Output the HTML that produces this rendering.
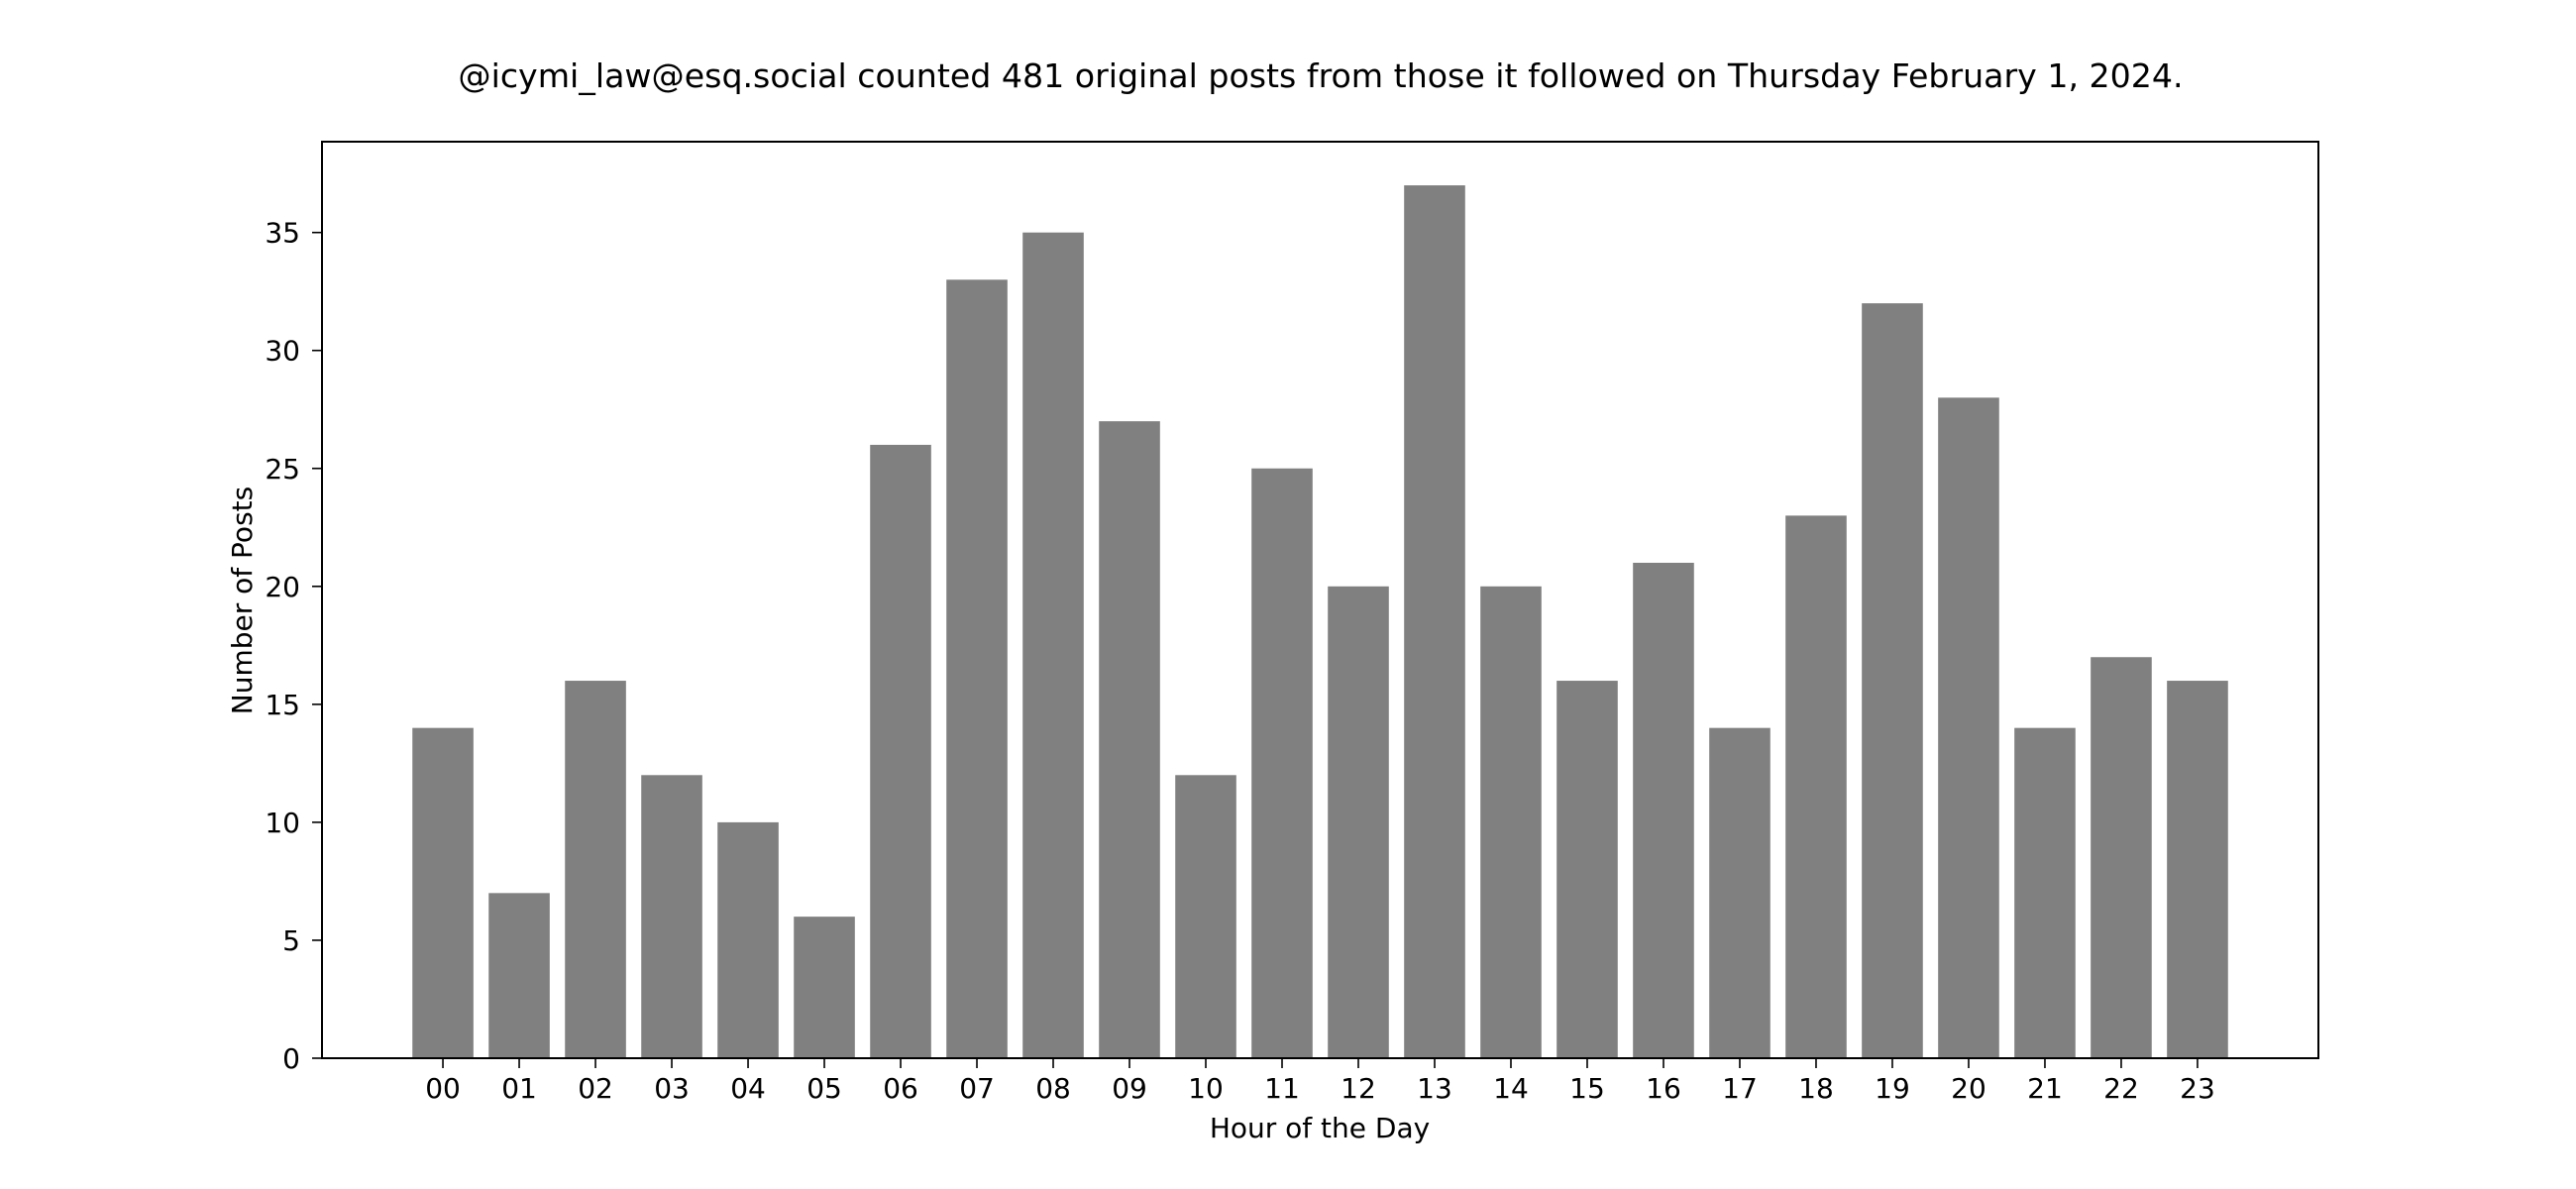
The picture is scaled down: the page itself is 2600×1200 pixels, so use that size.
<!DOCTYPE html>
<html><head><meta charset="utf-8"><style>
html,body{margin:0;padding:0;background:#fff;}
svg{display:block;font-family:"DejaVu Sans","Liberation Sans",sans-serif;}
</style></head><body>
<svg id="chart" width="2600" height="1200" viewBox="0 0 2600 1200" xmlns="http://www.w3.org/2000/svg">
<rect width="2600" height="1200" fill="#fff"/>
<text x="1333" y="88" font-size="33.2" text-anchor="middle" fill="#000">@icymi_law@esq.social counted 481 original posts from those it followed on Thursday February 1, 2024.</text>
<g id="bars"></g>
<g id="xticks"></g>
<g id="yticks"></g>
<rect x="325" y="143" width="2015" height="925" fill="none" stroke="#000" stroke-width="2"/>
<text x="1332" y="1148" font-size="28" text-anchor="middle">Hour of the Day</text>
<text x="0" y="0" font-size="28" text-anchor="middle" transform="translate(254,606) rotate(-90)">Number of Posts</text>
</svg>
<script>
const categories = ["00","01","02","03","04","05","06","07","08","09","10","11","12","13","14","15","16","17","18","19","20","21","22","23"];
const postCounts = [14,7,16,12,10,6,26,33,35,27,12,25,20,37,20,16,21,14,23,32,28,14,17,16];
const yTickValues = [0,5,10,15,20,25,30,35];

const NS="http://www.w3.org/2000/svg";
const L=325,R=2340,T=143,B=1068;
const xMin=-1.585,xMax=categories.length-1+1.585;
const yMax=Math.max(...postCounts)*1.05;
const xs=v=>L+(v-xMin)/(xMax-xMin)*(R-L);
const ys=v=>B-v/yMax*(B-T);
function mk(tag,attrs,parent){const e=document.createElementNS(NS,tag);for(const k in attrs)e.setAttribute(k,attrs[k]);parent.appendChild(e);return e;}
const gb=document.getElementById('bars'),gx=document.getElementById('xticks'),gy=document.getElementById('yticks');
const bw=0.8*(xs(1)-xs(0));
postCounts.forEach((v,i)=>{
  const r=mk('rect',{x:xs(i)-bw/2,y:ys(v),width:bw,height:ys(0)-ys(v),fill:'#808080'},gb);
  
  
});
categories.forEach((c,i)=>{
  const ln=mk('line',{x1:xs(i),x2:xs(i),y1:B,y2:B+10,stroke:'#000','stroke-width':1.6},gx);
  
  
  const t=mk('text',{x:xs(i),y:B+40,'font-size':28,'text-anchor':'middle'},gx);
  t.textContent=c;
  
  
});
yTickValues.forEach(v=>{
  const ln=mk('line',{x1:L-10,x2:L,y1:ys(v),y2:ys(v),stroke:'#000','stroke-width':1.6},gy);
  
  
  const t=mk('text',{x:L-22,y:ys(v)+10,'font-size':28,'text-anchor':'end'},gy);
  t.textContent=v;
  
  
});
</script>
</body></html>
